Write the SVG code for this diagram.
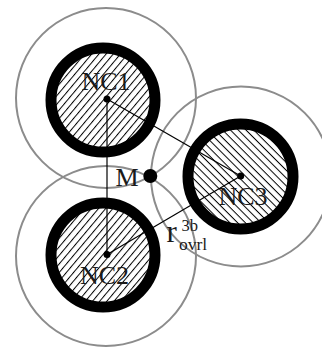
<svg xmlns="http://www.w3.org/2000/svg" width="322" height="347" viewBox="0 0 322 347">
<style>
.halo{fill:none;stroke:#8c8c8c;stroke-width:2}
.ring{stroke:#000;stroke-width:11}
.link{stroke:#000;stroke-width:1.2;fill:none}
.lbl{font-family:"Liberation Serif","Times New Roman",serif;fill:#1a1a1a}
</style>
<defs>
<pattern id="hA" width="5.5" height="5.5" patternUnits="userSpaceOnUse" patternTransform="rotate(-50)">
<line x1="0" y1="0.5" x2="5.5" y2="0.5" stroke="#000" stroke-width="1"/>
</pattern>
<pattern id="hB" width="5.5" height="5.5" patternUnits="userSpaceOnUse" patternTransform="rotate(45)">
<line x1="0" y1="0.5" x2="5.5" y2="0.5" stroke="#000" stroke-width="1"/>
</pattern>
</defs>
<rect width="322" height="347" fill="#fff"/>
<g id="halos">
<circle class="halo" cx="106" cy="98" r="90"/>
<circle class="halo" cx="106" cy="256" r="90"/>
<circle class="halo" cx="241" cy="176.5" r="90"/>
</g>
<g id="NC1">
<circle class="ring" cx="103" cy="100" r="52" fill="url(#hA)"/>
<text class="lbl" x="106" y="90" font-size="26" text-anchor="middle">NC1</text>
</g>
<g id="NC2">
<circle class="ring" cx="103" cy="255" r="52" fill="url(#hA)"/>
<text class="lbl" x="104.5" y="284" font-size="26" text-anchor="middle">NC2</text>
</g>
<g id="NC3">
<circle class="ring" cx="240.5" cy="176.5" r="52.5" fill="url(#hB)"/>
<text class="lbl" x="243" y="205" font-size="26" text-anchor="middle">NC3</text>
</g>
<g id="connectors">
<line class="link" x1="107" y1="99" x2="107" y2="254.5"/>
<line class="link" x1="107" y1="99" x2="240.7" y2="176"/>
<line class="link" x1="107" y1="254.5" x2="240.7" y2="176"/>
</g>
<g id="dots">
<circle cx="107" cy="99" r="3.5" fill="#000"/>
<circle cx="107" cy="254.5" r="3.5" fill="#000"/>
<circle cx="240.7" cy="176" r="3.5" fill="#000"/>
</g>
<g id="M">
<circle cx="150.3" cy="176" r="7" fill="#000"/>
<text class="lbl" x="115.5" y="186" font-size="26">M</text>
</g>
<g id="rlabel">
<text class="lbl" x="166.5" y="242" font-size="31">r</text>
<text class="lbl" x="181.5" y="231" font-size="16.5">3b</text>
<text class="lbl" x="179" y="250" font-size="17.5">ovrl</text>
</g>
</svg>
